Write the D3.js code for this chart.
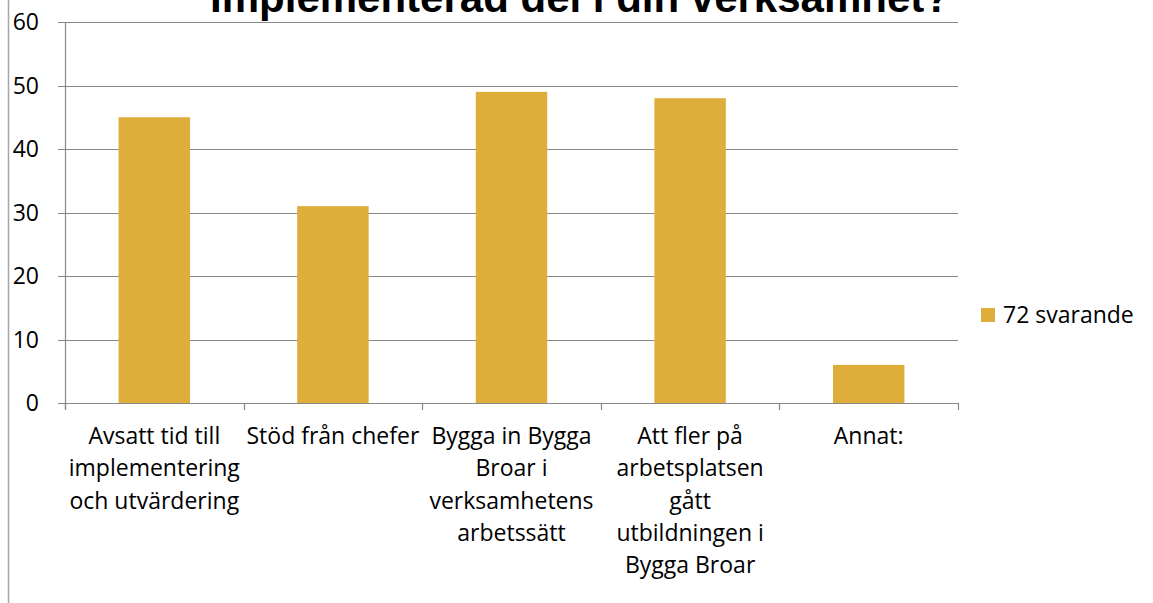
<!DOCTYPE html>
<html><head><meta charset="utf-8">
<script src="https://cdn.jsdelivr.net/npm/d3@7"></script>
<style>body{margin:0;background:#fff}svg{display:block}</style>
</head><body>
<svg id="chart" width="1153" height="603"></svg>
<script>
const title = "Implementerad del i din verksamhet?";
const categories = [
  "Avsatt tid till implementering och utvärdering",
  "Stöd från chefer",
  "Bygga in Bygga Broar i verksamhetens arbetssätt",
  "Att fler på arbetsplatsen gått utbildningen i Bygga Broar",
  "Annat:"
];
const values = [45, 31, 49, 48, 6];
const seriesName = "72 svarande";
const yTicks = [0, 10, 20, 30, 40, 50, 60];

const svg = d3.select("#chart");
const W = 1153, H = 603;
const x = d3.scaleBand().domain(categories).range([65, 958]).paddingInner(0.6).paddingOuter(0.3);
const xEdge = d3.scaleLinear().domain([0, categories.length]).range([65, 958]);
const y = d3.scaleLinear().domain([0, 60]).range([403, 22]);
const color = "#DEAD3A";
const gridColor = "#888";
const font = "'Open Sans', sans-serif";
const fs = 23;

// chart frame left edge
svg.append("line").attr("x1", 8.5).attr("x2", 8.5).attr("y1", 0).attr("y2", H)
  .attr("stroke", "#a6a6a6").attr("stroke-width", 1.5);

// gridlines
svg.append("g").selectAll("line").data(yTicks).join("line")
  .attr("x1", 58).attr("x2", 958)
  .attr("y1", d => Math.round(y(d)) + 0.5).attr("y2", d => Math.round(y(d)) + 0.5)
  .attr("stroke", gridColor).attr("stroke-width", 1.2);

// y axis line
svg.append("line").attr("x1", 65.5).attr("x2", 65.5).attr("y1", y(60)).attr("y2", 410)
  .attr("stroke", gridColor).attr("stroke-width", 1.2);

// x ticks
svg.append("g").selectAll("line").data(d3.range(categories.length + 1)).join("line")
  .attr("x1", d => Math.round(xEdge(d)) + 0.5).attr("x2", d => Math.round(xEdge(d)) + 0.5)
  .attr("y1", 403).attr("y2", 410)
  .attr("stroke", gridColor).attr("stroke-width", 1.2);

// y labels
svg.append("g").selectAll("text").data(yTicks).join("text")
  .attr("x", 39).attr("y", d => y(d)).attr("dy", "0.36em")
  .attr("text-anchor", "end").attr("font-family", font).attr("font-size", fs)
  .attr("fill", "#000").text(d => d);

// bars
svg.append("g").selectAll("rect").data(values).join("rect")
  .attr("x", (d, i) => x(categories[i])).attr("width", x.bandwidth())
  .attr("y", d => y(d)).attr("height", d => y(0) - y(d))
  .attr("fill", color);

// x labels with wrapping
const bandW = xEdge(1) - xEdge(0);
const lab = svg.append("g");
categories.forEach((c, i) => {
  const cx = xEdge(i) + bandW / 2;
  const t = lab.append("text").attr("x", cx).attr("y", 444)
    .attr("text-anchor", "middle").attr("font-family", font).attr("font-size", fs).attr("fill", "#000");
  const words = c.split(" ");
  let lines = [], cur = [];
  const tmp = t.append("tspan");
  words.forEach(w => {
    const test = cur.concat([w]).join(" ");
    tmp.text(test);
    if (tmp.node().getComputedTextLength() > bandW + 2 && cur.length) {
      lines.push(cur.join(" ")); cur = [w];
    } else cur.push(w);
  });
  lines.push(cur.join(" "));
  tmp.remove();
  lines.forEach((l, k) => {
    t.append("tspan").attr("x", cx).attr("y", 444 + k * 32.3).text(l);
  });
});

// title
svg.append("text").attr("x", 580).attr("y", 12).attr("text-anchor", "middle")
  .attr("font-family", "'Liberation Sans', Arial, sans-serif").attr("font-weight", "bold")
  .attr("font-size", 42).attr("fill", "#000").text(title);

// legend
svg.append("rect").attr("x", 981).attr("y", 308).attr("width", 14).attr("height", 14).attr("fill", color);
svg.append("text").attr("x", 1003).attr("y", 323).attr("font-family", font).attr("font-size", fs)
  .attr("fill", "#000").text(seriesName);
</script>
</body></html>
